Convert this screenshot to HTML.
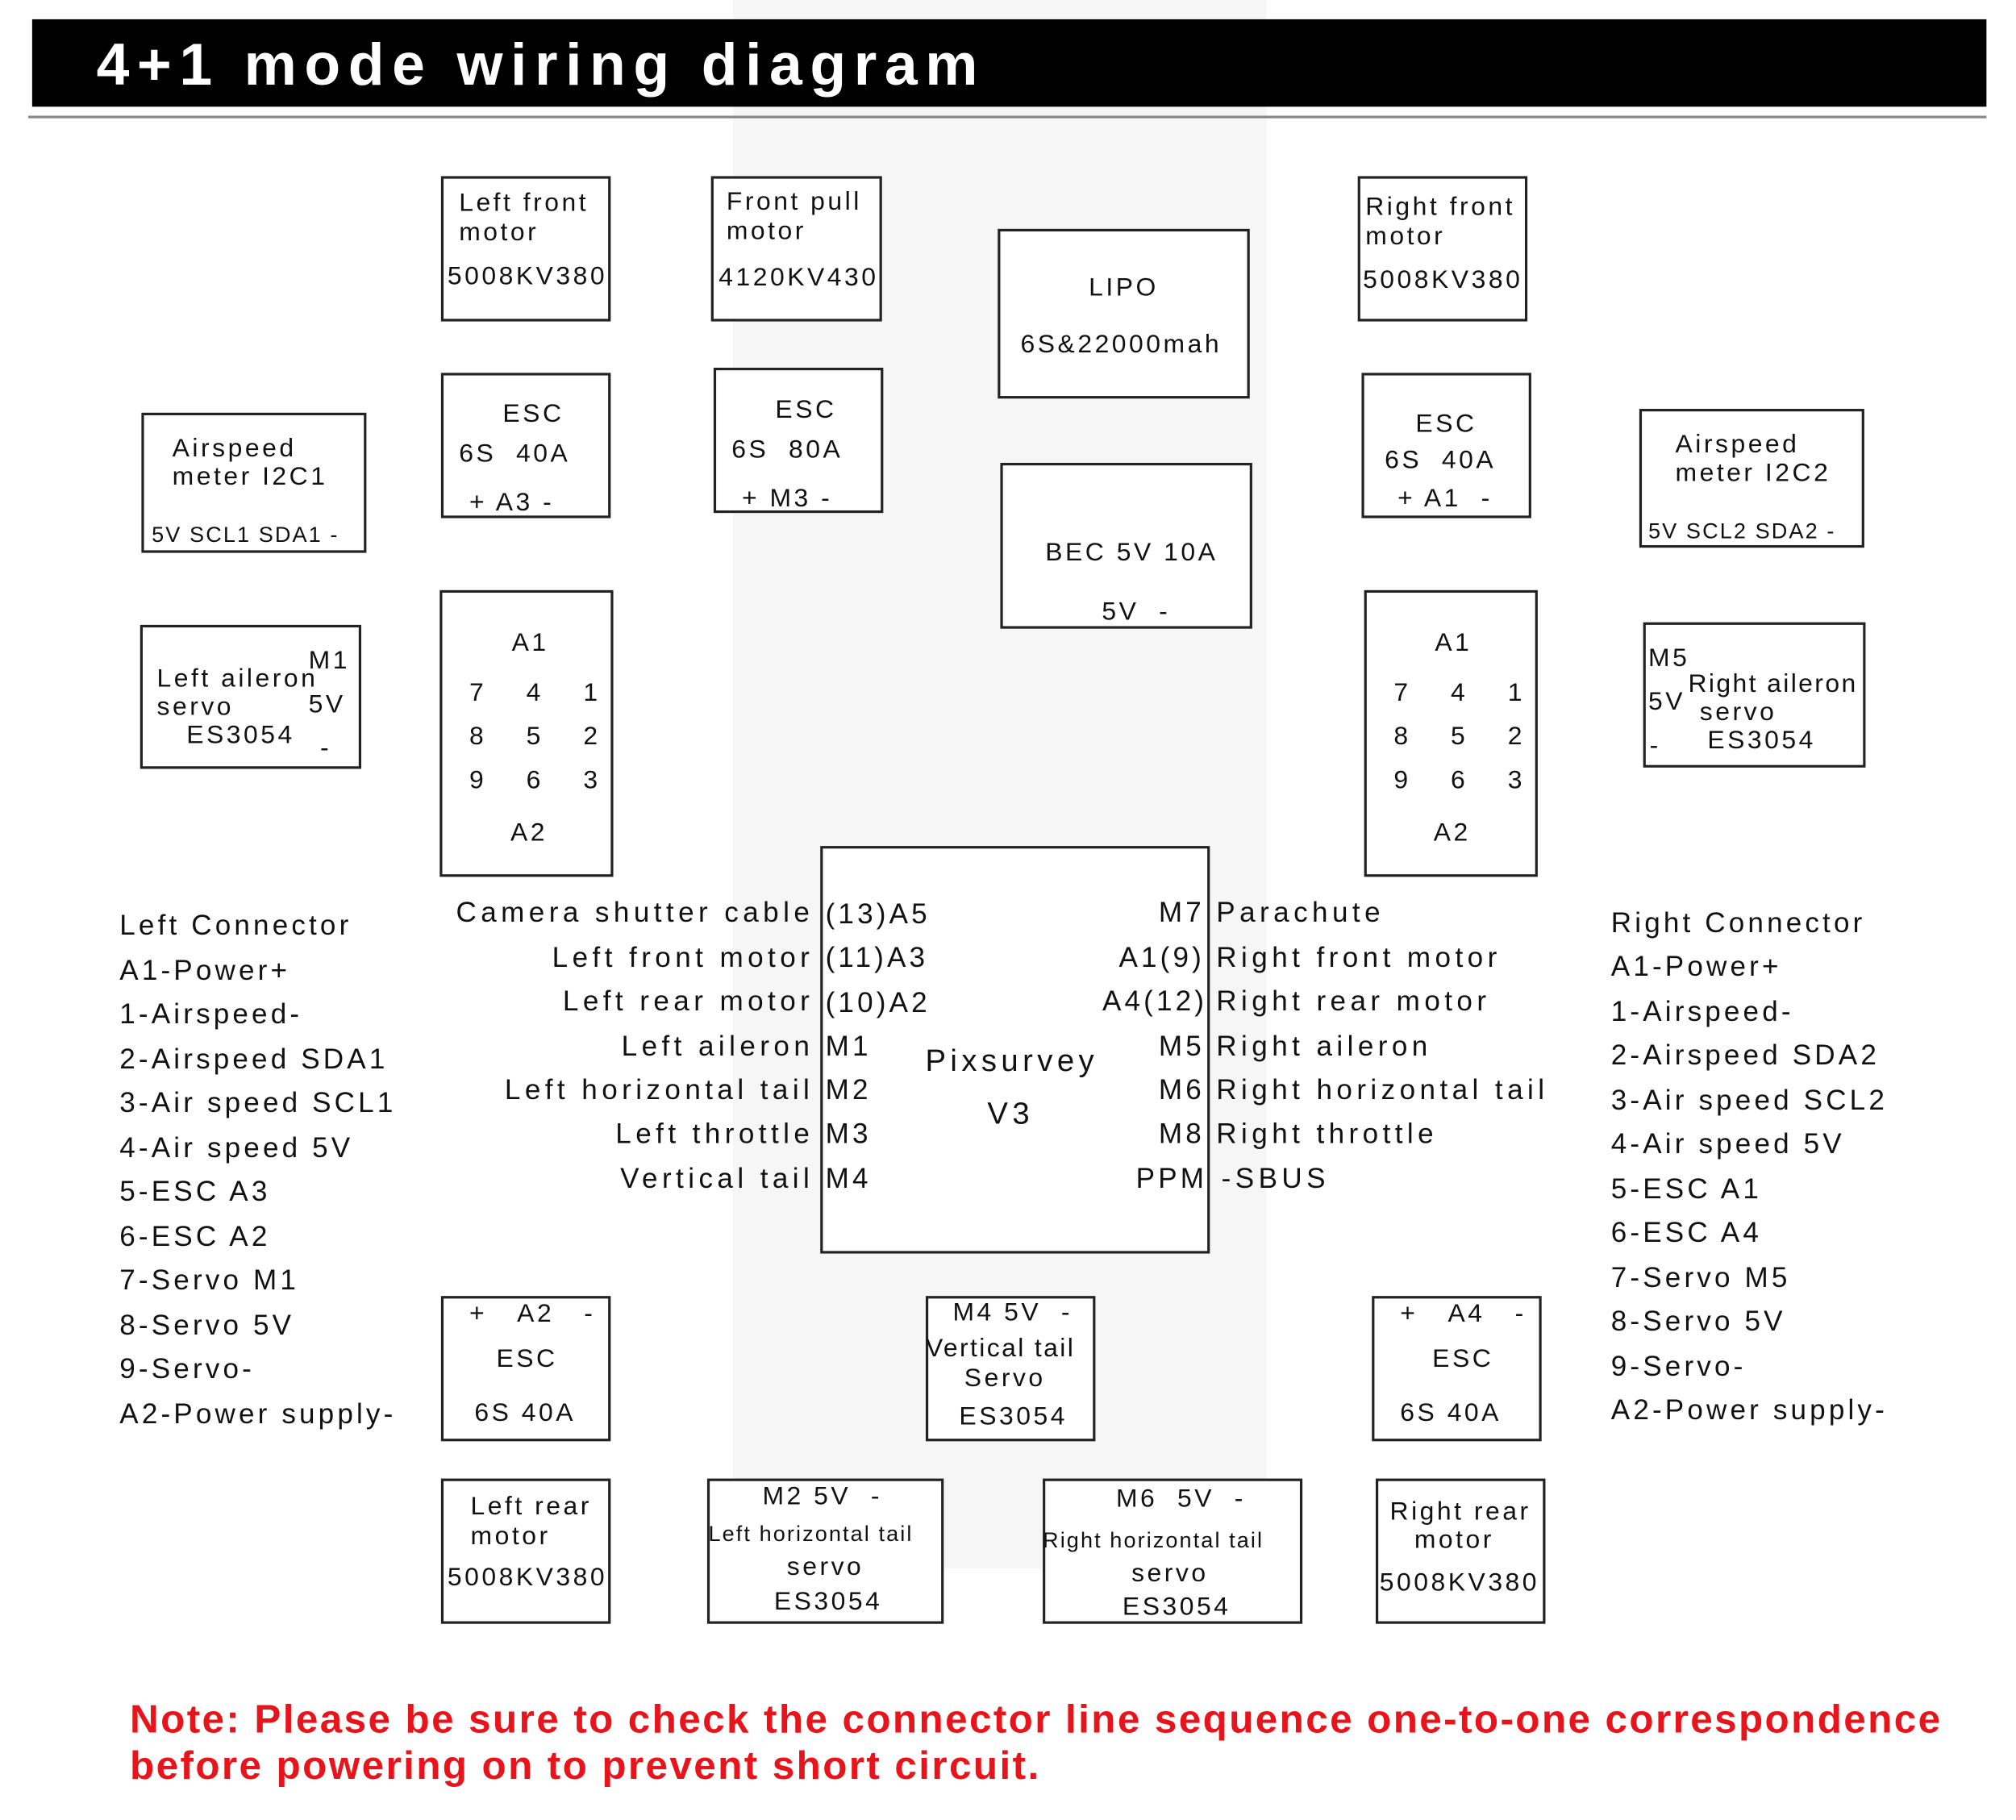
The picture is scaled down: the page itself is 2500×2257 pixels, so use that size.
<!DOCTYPE html>
<html><head><meta charset="utf-8"><style>
html,body{margin:0;padding:0;background:#fff;}
#wrap{width:2500px;height:2257px;overflow:hidden;position:relative;}
#p{position:absolute;left:0;top:0;width:1568px;height:1416px;transform:scale(1.5944);transform-origin:0 0;font-family:"Liberation Sans",sans-serif;color:#111;}
.b{position:absolute;border:2px solid #222;box-sizing:border-box;background:#fff;}
.t{position:absolute;white-space:nowrap;line-height:1;font-size:20px;letter-spacing:2.2px;transform:translateY(-50%);}
.s{font-size:17px;letter-spacing:1.3px;}
.L{font-size:22px;letter-spacing:2.6px;}
.M{font-size:22px;letter-spacing:3.4px;}
.r{text-align:right;transform:translate(-100%,-50%);}
.c{transform:translate(-50%,-50%);}
</style></head><body><div id="wrap"><div id="p">
<div style="position:absolute;left:570px;top:0;width:415px;height:1220px;background:#f6f6f6"></div>
<div style="position:absolute;left:25px;top:15px;width:1520px;height:68px;background:#000"></div>
<div class="t" style="left:75px;top:50px;color:#fff;font-weight:bold;font-size:46px;letter-spacing:6px">4+1 mode wiring diagram</div>
<div style="position:absolute;left:22px;top:90px;width:1523px;height:2px;background:#888"></div>

<div class="b" style="left:343px;top:137px;width:132px;height:113px"></div>
<div class="b" style="left:553px;top:137px;width:133px;height:113px"></div>
<div class="b" style="left:776px;top:178px;width:196px;height:132px"></div>
<div class="b" style="left:1056px;top:137px;width:132px;height:113px"></div>
<div class="b" style="left:343px;top:290px;width:132px;height:113px"></div>
<div class="b" style="left:555px;top:286px;width:132px;height:113px"></div>
<div class="b" style="left:778px;top:360px;width:196px;height:129px"></div>
<div class="b" style="left:1059px;top:290px;width:132px;height:113px"></div>
<div class="b" style="left:110px;top:321px;width:175px;height:109px"></div>
<div class="b" style="left:1275px;top:318px;width:175px;height:108px"></div>
<div class="b" style="left:109px;top:486px;width:172px;height:112px"></div>
<div class="b" style="left:1278px;top:484px;width:173px;height:113px"></div>
<div class="b" style="left:342px;top:459px;width:135px;height:223px"></div>
<div class="b" style="left:1061px;top:459px;width:135px;height:223px"></div>
<div class="b" style="left:638px;top:658px;width:303px;height:317px"></div>
<div class="b" style="left:343px;top:1008px;width:132px;height:113px"></div>
<div class="b" style="left:720px;top:1008px;width:132px;height:113px"></div>
<div class="b" style="left:1067px;top:1008px;width:132px;height:113px"></div>
<div class="b" style="left:343px;top:1150px;width:132px;height:113px"></div>
<div class="b" style="left:550px;top:1150px;width:184px;height:113px"></div>
<div class="b" style="left:811px;top:1150px;width:202px;height:113px"></div>
<div class="b" style="left:1070px;top:1150px;width:132px;height:113px"></div>

<div class="t" style="left:357px;top:158px">Left front</div>
<div class="t" style="left:357px;top:181px">motor</div>
<div class="t" style="left:348px;top:215px">5008KV380</div>
<div class="t" style="left:565px;top:157px">Front pull</div>
<div class="t" style="left:565px;top:180px">motor</div>
<div class="t" style="left:559px;top:216px">4120KV430</div>
<div class="t c" style="left:874px;top:224px">LIPO</div>
<div class="t c" style="left:872px;top:268px">6S&amp;22000mah</div>
<div class="t" style="left:1062px;top:161px">Right front</div>
<div class="t" style="left:1062px;top:184px">motor</div>
<div class="t" style="left:1060px;top:218px">5008KV380</div>
<div class="t" style="left:391px;top:322px">ESC</div>
<div class="t" style="left:357px;top:353px">6S&nbsp;&nbsp;40A</div>
<div class="t" style="left:365px;top:391px">+ A3 -</div>
<div class="t" style="left:603px;top:319px">ESC</div>
<div class="t" style="left:569px;top:350px">6S&nbsp;&nbsp;80A</div>
<div class="t" style="left:577px;top:388px">+ M3 -</div>
<div class="t" style="left:813px;top:430px">BEC 5V 10A</div>
<div class="t" style="left:857px;top:476px">5V&nbsp;&nbsp;-</div>
<div class="t" style="left:1101px;top:330px">ESC</div>
<div class="t" style="left:1077px;top:358px">6S&nbsp;&nbsp;40A</div>
<div class="t" style="left:1087px;top:388px">+ A1&nbsp;&nbsp;-</div>
<div class="t" style="left:134px;top:349px">Airspeed</div>
<div class="t" style="left:134px;top:371px">meter I2C1</div>
<div class="t s" style="left:118px;top:416px">5V SCL1 SDA1 -</div>
<div class="t" style="left:1303px;top:346px">Airspeed</div>
<div class="t" style="left:1303px;top:368px">meter I2C2</div>
<div class="t s" style="left:1282px;top:413px">5V SCL2 SDA2 -</div>
<div class="t" style="left:240px;top:514px">M1</div>
<div class="t" style="left:122px;top:528px">Left aileron</div>
<div class="t" style="left:122px;top:550px">servo</div>
<div class="t" style="left:240px;top:548px">5V</div>
<div class="t" style="left:145px;top:572px">ES3054</div>
<div class="t" style="left:249px;top:582px">-</div>
<div class="t" style="left:1282px;top:512px">M5</div>
<div class="t" style="left:1313px;top:532px;letter-spacing:1.5px">Right aileron</div>
<div class="t" style="left:1282px;top:546px">5V</div>
<div class="t" style="left:1322px;top:554px">servo</div>
<div class="t" style="left:1328px;top:576px">ES3054</div>
<div class="t" style="left:1283px;top:580px">-</div>

<div class="t" style="left:398px;top:500px">A1</div>
<div class="t" style="left:365px;top:539px">7&nbsp;&nbsp;&nbsp;&nbsp;4&nbsp;&nbsp;&nbsp;&nbsp;1</div>
<div class="t" style="left:365px;top:573px">8&nbsp;&nbsp;&nbsp;&nbsp;5&nbsp;&nbsp;&nbsp;&nbsp;2</div>
<div class="t" style="left:365px;top:607px">9&nbsp;&nbsp;&nbsp;&nbsp;6&nbsp;&nbsp;&nbsp;&nbsp;3</div>
<div class="t" style="left:397px;top:648px">A2</div>
<div class="t" style="left:1084px;top:500px;margin-left:32px">A1</div>
<div class="t" style="left:1084px;top:539px">7&nbsp;&nbsp;&nbsp;&nbsp;4&nbsp;&nbsp;&nbsp;&nbsp;1</div>
<div class="t" style="left:1084px;top:573px">8&nbsp;&nbsp;&nbsp;&nbsp;5&nbsp;&nbsp;&nbsp;&nbsp;2</div>
<div class="t" style="left:1084px;top:607px">9&nbsp;&nbsp;&nbsp;&nbsp;6&nbsp;&nbsp;&nbsp;&nbsp;3</div>
<div class="t" style="left:1115px;top:648px">A2</div>

<div class="t c M" style="left:787px;top:826px;font-size:24px">Pixsurvey</div>
<div class="t c M" style="left:786px;top:867px;font-size:24px">V3</div>

<div class="t r M" style="left:633px;top:710px">Camera shutter cable</div>
<div class="t r M" style="left:633px;top:745px">Left front motor</div>
<div class="t r M" style="left:633px;top:779px">Left rear motor</div>
<div class="t r M" style="left:633px;top:814px">Left aileron</div>
<div class="t r M" style="left:633px;top:848px">Left horizontal tail</div>
<div class="t r M" style="left:633px;top:882px">Left throttle</div>
<div class="t r M" style="left:633px;top:917px">Vertical tail</div>
<div class="t L" style="left:642px;top:711px">(13)A5</div>
<div class="t L" style="left:642px;top:745px">(11)A3</div>
<div class="t L" style="left:642px;top:780px">(10)A2</div>
<div class="t L" style="left:642px;top:814px">M1</div>
<div class="t L" style="left:642px;top:848px">M2</div>
<div class="t L" style="left:642px;top:882px">M3</div>
<div class="t L" style="left:642px;top:917px">M4</div>
<div class="t r L" style="left:937px;top:710px">M7</div>
<div class="t r L" style="left:937px;top:745px">A1(9)</div>
<div class="t r L" style="left:939px;top:779px">A4(12)</div>
<div class="t r L" style="left:937px;top:814px">M5</div>
<div class="t r L" style="left:937px;top:848px">M6</div>
<div class="t r L" style="left:937px;top:882px">M8</div>
<div class="t r L" style="left:939px;top:917px">PPM</div>
<div class="t M" style="left:946px;top:710px">Parachute</div>
<div class="t M" style="left:946px;top:745px">Right front motor</div>
<div class="t M" style="left:946px;top:779px">Right rear motor</div>
<div class="t M" style="left:946px;top:814px">Right aileron</div>
<div class="t M" style="left:946px;top:848px">Right horizontal tail</div>
<div class="t M" style="left:946px;top:882px">Right throttle</div>
<div class="t M" style="left:950px;top:917px">-SBUS</div>

<div class="t L" style="left:93px;top:720px">Left Connector</div>
<div class="t L" style="left:93px;top:755px">A1-Power+</div>
<div class="t L" style="left:93px;top:789px">1-Airspeed-</div>
<div class="t L" style="left:93px;top:824px">2-Airspeed SDA1</div>
<div class="t L" style="left:93px;top:858px">3-Air speed SCL1</div>
<div class="t L" style="left:93px;top:893px">4-Air speed 5V</div>
<div class="t L" style="left:93px;top:927px">5-ESC A3</div>
<div class="t L" style="left:93px;top:962px">6-ESC A2</div>
<div class="t L" style="left:93px;top:996px">7-Servo M1</div>
<div class="t L" style="left:93px;top:1031px">8-Servo 5V</div>
<div class="t L" style="left:93px;top:1065px">9-Servo-</div>
<div class="t L" style="left:93px;top:1100px">A2-Power supply-</div>

<div class="t L" style="left:1253px;top:718px">Right Connector</div>
<div class="t L" style="left:1253px;top:752px">A1-Power+</div>
<div class="t L" style="left:1253px;top:787px">1-Airspeed-</div>
<div class="t L" style="left:1253px;top:821px">2-Airspeed SDA2</div>
<div class="t L" style="left:1253px;top:856px">3-Air speed SCL2</div>
<div class="t L" style="left:1253px;top:890px">4-Air speed 5V</div>
<div class="t L" style="left:1253px;top:925px">5-ESC A1</div>
<div class="t L" style="left:1253px;top:959px">6-ESC A4</div>
<div class="t L" style="left:1253px;top:994px">7-Servo M5</div>
<div class="t L" style="left:1253px;top:1028px">8-Servo 5V</div>
<div class="t L" style="left:1253px;top:1063px">9-Servo-</div>
<div class="t L" style="left:1253px;top:1097px">A2-Power supply-</div>

<div class="t" style="left:365px;top:1022px">+&nbsp;&nbsp;&nbsp;A2&nbsp;&nbsp;&nbsp;-</div>
<div class="t" style="left:386px;top:1057px">ESC</div>
<div class="t" style="left:369px;top:1099px">6S 40A</div>
<div class="t" style="left:741px;top:1021px">M4 5V&nbsp;&nbsp;-</div>
<div class="t" style="left:720px;top:1049px;letter-spacing:1.5px">Vertical tail</div>
<div class="t" style="left:750px;top:1072px">Servo</div>
<div class="t" style="left:746px;top:1102px">ES3054</div>
<div class="t" style="left:1089px;top:1022px">+&nbsp;&nbsp;&nbsp;A4&nbsp;&nbsp;&nbsp;-</div>
<div class="t" style="left:1114px;top:1057px">ESC</div>
<div class="t" style="left:1089px;top:1099px">6S 40A</div>
<div class="t" style="left:366px;top:1172px">Left rear</div>
<div class="t" style="left:366px;top:1195px">motor</div>
<div class="t" style="left:348px;top:1227px">5008KV380</div>
<div class="t" style="left:593px;top:1164px">M2 5V&nbsp;&nbsp;-</div>
<div class="t s" style="left:551px;top:1193px">Left horizontal tail</div>
<div class="t" style="left:612px;top:1219px">servo</div>
<div class="t" style="left:602px;top:1246px">ES3054</div>
<div class="t" style="left:868px;top:1166px">M6&nbsp;&nbsp;5V&nbsp;&nbsp;-</div>
<div class="t s" style="left:811px;top:1198px">Right horizontal tail</div>
<div class="t" style="left:880px;top:1224px">servo</div>
<div class="t" style="left:873px;top:1250px">ES3054</div>
<div class="t" style="left:1081px;top:1176px">Right rear</div>
<div class="t" style="left:1100px;top:1198px">motor</div>
<div class="t" style="left:1073px;top:1231px">5008KV380</div>

<div class="t" style="left:101px;top:1337px;color:#e8141b;font-weight:bold;font-size:31px;letter-spacing:1.5px">Note: Please be sure to check the connector line sequence one-to-one correspondence</div>
<div class="t" style="left:101px;top:1373px;color:#e8141b;font-weight:bold;font-size:31px;letter-spacing:1.5px">before powering on to prevent short circuit.</div>
</div></div></body></html>
